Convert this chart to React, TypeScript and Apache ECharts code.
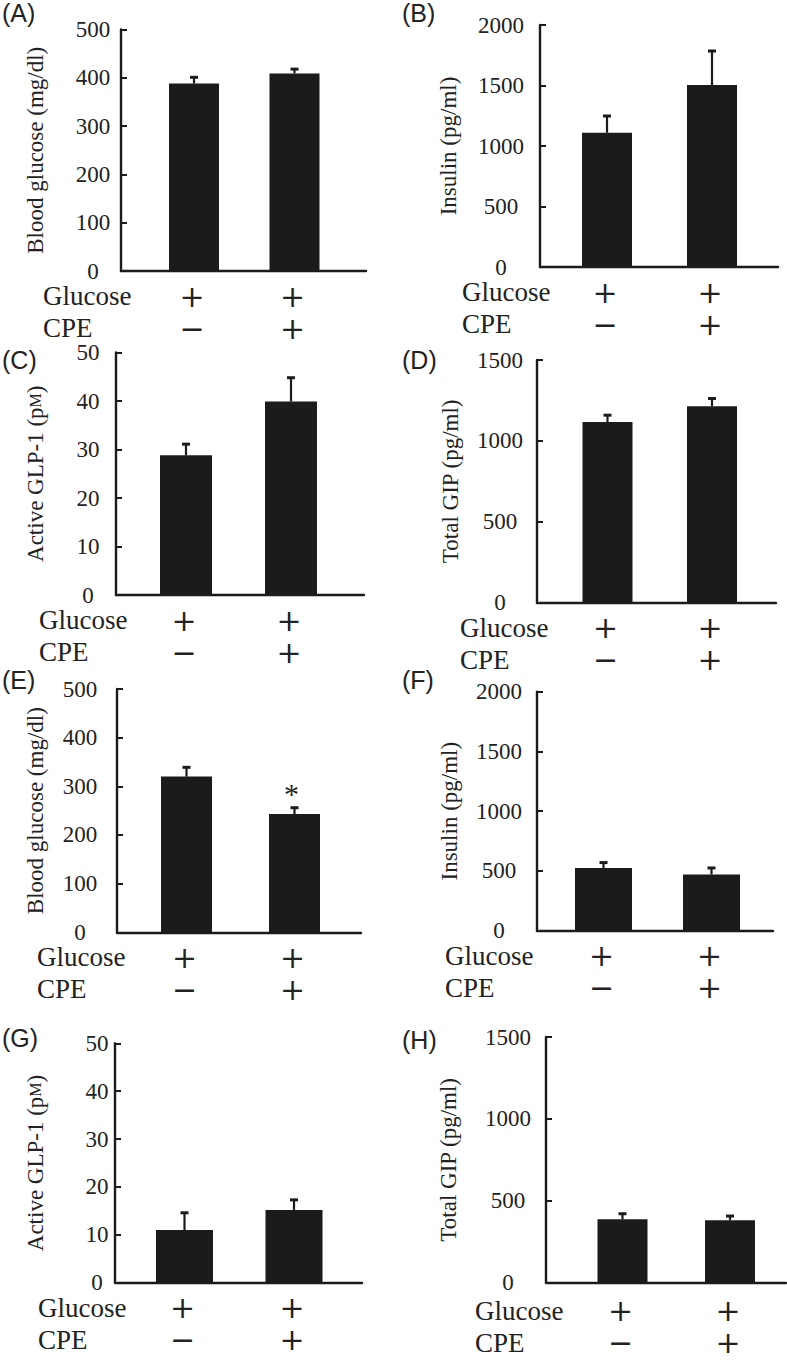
import React, { useEffect, useRef } from "react";
import * as echarts from "echarts";

// ---------- DATA ----------
const groups = ["Glucose+ / CPE−", "Glucose+ / CPE+"];
const glucoseSigns = ["+", "+"];
const cpeSigns = ["−", "+"];
const rowLabels = ["Glucose", "CPE"];
const panelLetters = ["(A)", "(B)", "(C)", "(D)", "(E)", "(F)", "(G)", "(H)"];
const yAxisNames = [
  "Blood glucose (mg/dl)",
  "Insulin (pg/ml)",
  "GLP",
  "Total GIP (pg/ml)",
  "Blood glucose (mg/dl)",
  "Insulin (pg/ml)",
  "GLP",
  "Total GIP (pg/ml)",
];
const yMax = [500, 2000, 50, 1500, 500, 2000, 50, 1500];
const yInterval = [100, 500, 10, 500, 100, 500, 10, 500];

const meanA = [388, 409];
const semA = [13, 9];
const meanB = [1110, 1504];
const semB = [138, 281];
const meanC = [28.8, 39.9];
const semC = [2.3, 4.9];
const meanD = [1117, 1214];
const semD = [42, 48];
const meanE = [320, 243];
const semE = [19, 13];
const meanF = [525, 470];
const semF = [45, 55];
const meanG = [11.0, 15.2];
const semG = [3.6, 2.1];
const meanH = [387, 381];
const semH = [34, 26];

const marksE = ["", "*"];
const noMarks = ["", ""];

const means = [meanA, meanB, meanC, meanD, meanE, meanF, meanG, meanH];
const sems = [semA, semB, semC, semD, semE, semF, semG, semH];
const marks = [noMarks, noMarks, noMarks, noMarks, marksE, noMarks, noMarks, noMarks];

// ---------- LAYOUT ----------
const layout = [
  { L: 121, R: 366, top: 29.5, zero: 271, c1: 194, c2: 294.5, bw: 50, labelGap: 28, nameGap: 86, rowX: 43, lx: 2, ly: 12, r1: 25, r2: 57 },
  { L: 540, R: 778, top: 25, zero: 267, c1: 607, c2: 712, bw: 50, labelGap: 39, nameGap: 92, rowX: 462, lx: 402, ly: 12, r1: 25, r2: 57 },
  { L: 116, R: 364, top: 352.5, zero: 595, c1: 186, c2: 291, bw: 52, labelGap: 28, nameGap: 81, rowX: 39, lx: 2, ly: 360, r1: 25, r2: 57 },
  { L: 537, R: 776, top: 360, zero: 602.7, c1: 607.5, c2: 712, bw: 50, labelGap: 37, nameGap: 87, rowX: 460, lx: 402, ly: 360, r1: 25, r2: 57 },
  { L: 117, R: 361, top: 689, zero: 932.3, c1: 186.5, c2: 294.5, bw: 51, labelGap: 37, nameGap: 82, rowX: 37, lx: 2, ly: 680, r1: 25, r2: 57 },
  { L: 537, R: 773, top: 691.7, zero: 930.7, c1: 603.5, c2: 711.5, bw: 57, labelGap: 38, nameGap: 88, rowX: 445, lx: 402, ly: 680, r1: 25, r2: 57 },
  { L: 115, R: 362, top: 1043.3, zero: 1282.7, c1: 184.5, c2: 294, bw: 57, labelGap: 18, nameGap: 80, rowX: 38, lx: 2, ly: 1038, r1: 25, r2: 57 },
  { L: 546, R: 786, top: 1037, zero: 1282.7, c1: 622.5, c2: 730, bw: 50, labelGap: 38, nameGap: 98, rowX: 475, lx: 402, ly: 1040, r1: 28, r2: 60 },
];

const INK = "#1b1b1b";
const SERIF = "Liberation Serif";
const SIGN_FONT = "DejaVu Serif";
const SANS = "Liberation Sans";

export default function App() {
  const ref = useRef<HTMLDivElement>(null);

  useEffect(() => {
    if (!ref.current) return;
    const chart = echarts.init(ref.current, undefined, { renderer: "svg" });

    const grids: any[] = [];
    const xAxes: any[] = [];
    const yAxes: any[] = [];
    const series: any[] = [];
    const graphics: any[] = [];

    layout.forEach((p, k) => {
      const d = p.c2 - p.c1;
      const xmin = -(p.c1 - p.L) / d;
      const xmax = 1 + (p.R - p.c2) / d;
      const row1 = p.r1;
      const row2 = p.r2;
      grids.push({ left: p.L, top: p.top, width: p.R - p.L, height: p.zero - p.top, containLabel: false });
      xAxes.push({
        type: "value",
        gridIndex: k,
        min: xmin,
        max: xmax,
        axisLine: { show: true, onZero: false, lineStyle: { color: INK, width: 2.4 } },
        axisTick: { show: false },
        axisLabel: { show: false },
        splitLine: { show: false },
      });
      const isGLP = yAxisNames[k] === "GLP";
      yAxes.push({
        type: "value",
        gridIndex: k,
        min: 0,
        max: yMax[k],
        interval: yInterval[k],
        name: isGLP ? "{n|Active GLP-1 (p}{sc|M}{n|)}" : yAxisNames[k],
        nameLocation: "middle",
        nameGap: p.nameGap,
        nameRotate: 90,
        nameTextStyle: {
          fontFamily: SERIF,
          fontSize: 23,
          color: "#222",
          verticalAlign: "middle",
          align: "center",
          rich: isGLP
            ? {
                n: { fontFamily: SERIF, fontSize: 23, color: "#222" },
                sc: { fontFamily: SERIF, fontSize: 16, color: "#222" },
              }
            : undefined,
        },
        axisLine: { show: true, onZero: false, lineStyle: { color: INK, width: 2.4 } },
        axisTick: { show: true, inside: true, length: 6, lineStyle: { color: INK, width: 2 } },
        axisLabel: {
          show: true,
          align: "center",
          margin: p.labelGap,
          fontFamily: SERIF,
          fontSize: 23,
          color: "#222",
          formatter: (v: number) => String(v),
        },
        splitLine: { show: false },
      });

      const barData = means[k].map((m, i) => [i, m]);
      series.push({
        type: "bar",
        name: groups.join(" | "),
        xAxisIndex: k,
        yAxisIndex: k,
        barWidth: p.bw,
        data: barData,
        itemStyle: { color: INK },
        silent: true,
      });

      const errData = means[k].map((m, i) => [i, m, sems[k][i]]);
      const mk = marks[k];
      series.push({
        type: "custom",
        xAxisIndex: k,
        yAxisIndex: k,
        clip: false,
        z: 5,
        silent: true,
        data: errData,
        renderItem: (params: any, api: any) => {
          const i = params.dataIndex;
          const x = api.value(0);
          const m = api.value(1);
          const s = api.value(2);
          const pMean = api.coord([x, m]);
          const pTop = api.coord([x, m + s]);
          const pZero = api.coord([x, 0]);
          const signStyle = {
            align: "center",
            verticalAlign: "middle",
            fontFamily: SIGN_FONT,
            fontSize: 30,
            lineHeight: 26,
            fill: "#222",
          };
          const children: any[] = [
            {
              type: "line",
              shape: { x1: pMean[0], y1: pMean[1], x2: pTop[0], y2: pTop[1] },
              style: { stroke: INK, lineWidth: 2.2 },
            },
            {
              type: "line",
              shape: { x1: pTop[0] - 4, y1: pTop[1], x2: pTop[0] + 4, y2: pTop[1] },
              style: { stroke: INK, lineWidth: 3 },
            },
            {
              type: "text",
              style: { ...signStyle, text: glucoseSigns[i], x: pZero[0] - 2, y: pZero[1] + row1 },
            },
            {
              type: "text",
              style: { ...signStyle, text: cpeSigns[i], x: pZero[0] - 2, y: pZero[1] + row2 },
            },
          ];
          if (mk[i]) {
            children.push({
              type: "text",
              style: {
                text: mk[i],
                x: pTop[0] - 3,
                y: pTop[1] - 14,
                align: "center",
                verticalAlign: "middle",
                fontFamily: SERIF,
                fontSize: 30,
                lineHeight: 20,
                fill: "#222",
              },
            });
          }
          return { type: "group", children };
        },
      });

      graphics.push({
        type: "text",
        left: p.lx,
        top: Math.max(0, p.ly - 13),
        style: { text: panelLetters[k], fontFamily: SANS, fontSize: 25, fill: "#222" },
      });
      rowLabels.forEach((lab, r) => {
        graphics.push({
          type: "text",
          x: p.rowX,
          y: p.zero + (r === 0 ? row1 : row2),
          style: {
            text: lab,
            fontFamily: SERIF,
            fontSize: 27,
            lineHeight: 26,
            fill: "#222",
            align: "left",
            verticalAlign: "middle",
          },
        });
      });
    });

    chart.setOption({
      animation: false,
      backgroundColor: "#ffffff",
      grid: grids,
      xAxis: xAxes,
      yAxis: yAxes,
      series,
      graphic: graphics,
    });

    return () => chart.dispose();
  }, []);

  return (
    <div
      ref={ref}
      style={{ position: "absolute", left: 0, top: 0, width: 787, height: 1360, background: "#fff" }}
    />
  );
}
